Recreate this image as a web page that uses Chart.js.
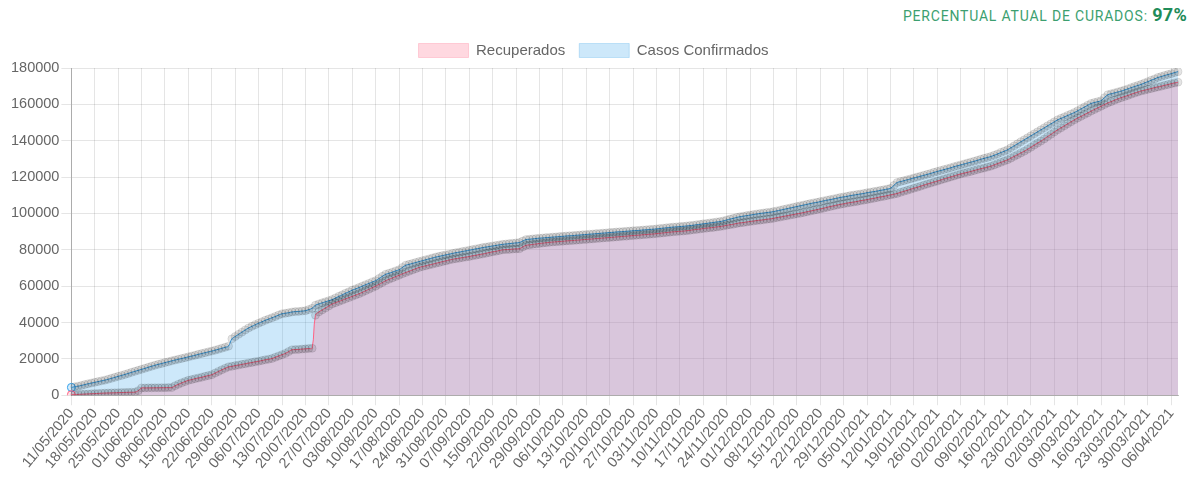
<!DOCTYPE html>
<html>
<head>
<meta charset="utf-8">
<script src="https://cdn.jsdelivr.net/npm/chart.js"></script>
<style>
  body { margin: 0; background: #fff; }
  #percentual {
    position: absolute; top: 4px; right: 12px;
    font-family: "Roboto", sans-serif; font-size: 14px; letter-spacing: 0.8px;
    color: #3c9f70;
  }
  #percentual b { font-size: 18px; color: #1f8c59; letter-spacing: 0.3px; }
  #caixa { position: absolute; top: 28px; left: 0; width: 1199px; height: 450px; }
</style>
</head>
<body>
<div id="percentual">PERCENTUAL ATUAL DE CURADOS: <b>97%</b></div>
<div id="caixa"><canvas id="myChart"></canvas></div>
<script>
// serie diaria desde 11/05/2020 (falta um dia em setembro)
const dataInicial = "2020-05-11";
const dataFaltante = "2020-09-12";
const totalDias = 332;

const nomesSeries = ["Recuperados", "Casos Confirmados"];

const recuperados = [
  300, 380, 460, 550, 640, 730, 820, 900, 990, 1100, 1200,
  1250, 1300, 1360, 1420, 1480, 1540, 1600, 1650, 1700,
  2500, 4000,
  4000, 4050, 4050, 4100, 4100, 4150, 4150, 4200, 4200,
  5200, 6000, 6800, 7500, 8200,
  8600, 9100, 9500,
  9900, 10400, 10800, 11300,
  12200, 13100, 14000,
  14800, 15600,
  15900, 16300, 16600, 17000, 17300,
  17700, 18000, 18400, 18700,
  19100, 19500, 19800, 20200,
  20900, 21600, 22300, 23000,
  24000, 25000,
  25100, 25200, 25400, 25500, 25700, 25800,
  44000, 45800,
  46900, 48000, 49100, 50200,
  50900, 51600, 52300, 53000, 53700, 54400, 55100, 55800,
  56600, 57500, 58300, 59200, 60000,
  61000, 62000, 63000,
  63800, 64500, 65300, 66000, 66800, 67500,
  68200, 68900, 69600, 70300,
  70800, 71200, 71700, 72100, 72600,
  73000, 73500, 73900, 74400, 74800,
  75100, 75400, 75700, 76000, 76300,
  76700, 77000, 77400, 77700, 78100,
  78500, 78900, 79200, 79600, 80000,
  80100, 80200, 80400, 80500, 80600,
  81600, 82500,
  82700, 83000, 83200, 83500, 83700, 83900, 84100, 84300,
  84400, 84600, 84700, 84900, 85000, 85100, 85300, 85400, 85600, 85700,
  85900, 86000, 86200, 86300, 86500, 86600, 86800, 86900, 87100, 87200,
  87400, 87500, 87700, 87800, 88000, 88100, 88300, 88400, 88600, 88700,
  88900, 89100, 89300, 89500, 89700, 89900, 90000, 90200, 90300, 90500,
  90700, 91000, 91200, 91400, 91700, 91900, 92100, 92300, 92600, 92800,
  93100, 93500, 93800, 94100, 94500, 94800,
  95000, 95300, 95600, 95800, 96100, 96300,
  96500, 96800, 97000, 97300,
  97700, 98000, 98400, 98700, 99100, 99400, 99800, 100100, 100500, 100900,
  101300, 101700, 102100, 102500, 102900, 103400, 103800, 104200, 104600, 105000,
  105300, 105700, 106000, 106300, 106600, 107000, 107300, 107600, 108000, 108300,
  108700, 109100, 109400, 109800, 110200,
  110600, 111000,
  111600, 112200, 112700, 113300, 113900, 114400, 115000, 115600,
  116200, 116700, 117300, 117800, 118400, 119000, 119500, 120100, 120600, 121200,
  121700, 122200, 122600, 123100, 123600, 124100, 124600, 125000, 125500, 126000,
  126700, 127400, 128100, 128800, 129500,
  130400, 131400, 132300, 133300, 134200,
  135300, 136400, 137600, 138700, 139800,
  141000, 142300, 143500, 144800, 146000,
  147100, 148200, 149300, 150400, 151500,
  152500, 153400, 154400, 155300, 156300,
  157200, 158100, 159000, 159900, 160800,
  161500, 162300, 163000, 163700,
  164300, 164900, 165600, 166200, 166800, 167400,
  167800, 168300, 168700, 169200, 169600,
  170000, 170500, 170900, 171400, 171800, 172200
];

const confirmados = [
  4300, 4650, 5000, 5400, 5850, 6300,
  6700, 7100, 7500, 7900, 8300,
  8800, 9300, 9850, 10400, 10900,
  11450, 12000, 12600, 13150, 13700,
  14250, 14800, 15400, 15950, 16500,
  17000, 17450, 17950, 18400, 18900,
  19350, 19800, 20200, 20650, 21100,
  21550, 22000, 22500, 22950, 23400,
  23850, 24300, 24800, 25300,
  25850, 26400, 27000,
  31000, 32300, 33500,
  34700, 35900, 37000,
  37900, 38800, 39600, 40400, 41200,
  41900, 42600, 43300, 44100, 44800,
  45100, 45400, 45800,
  46000, 46100, 46300, 46500,
  47100, 47800, 49500,
  50200, 50800, 51400, 52000, 52600,
  53500, 54400, 55200, 56100, 56900, 57800,
  58500, 59200,
  60000, 60800, 61500, 62300, 63000,
  64200, 65400, 66500,
  67100, 67700, 68400, 69000,
  70300, 71500,
  72000, 72500, 73000, 73500,
  74000, 74500, 75000, 75500, 76000,
  76400, 76800, 77200, 77600, 78000,
  78400, 78700, 79100, 79400, 79800,
  80100, 80500, 80800, 81200, 81500,
  81800, 82100, 82400, 82700, 83000,
  83200, 83400, 83600, 83800, 84000,
  84800, 85600,
  85800, 86000, 86200, 86400, 86500, 86700, 86800, 87000,
  87100, 87300, 87400, 87600, 87700, 87800, 88000, 88100, 88300, 88400,
  88600, 88700, 88900, 89000, 89200, 89300, 89500, 89600, 89800, 89900,
  90000, 90200, 90300, 90500, 90600, 90700, 90900, 91000, 91200, 91300,
  91500, 91700, 91900, 92100, 92300, 92500, 92600, 92800, 92900, 93100,
  93300, 93500, 93800, 94000, 94300, 94500, 94800, 95000, 95300, 95500,
  95900, 96400, 96900, 97300, 97800, 98200,
  98500, 98800, 99100, 99400, 99700, 100000,
  100200, 100500, 100700, 101000,
  101400, 101800, 102200, 102600, 103000, 103400, 103800, 104200, 104600, 105000,
  105400, 105800, 106100, 106500, 106900, 107300, 107600, 108000, 108400, 108800,
  109100, 109400, 109800, 110100, 110400, 110700, 111000, 111400, 111700, 112000,
  112300, 112700, 113000, 113400, 113800,
  115400, 117000,
  117500, 118000, 118500, 119000, 119500, 120000, 120500, 121000,
  121500, 122000, 122600, 123100, 123600, 124100, 124600, 125100, 125700, 126200,
  126700, 127200, 127700, 128200, 128700, 129200, 129800, 130300, 130800, 131300,
  132000, 132700, 133500, 134200, 135000,
  136100, 137200, 138300, 139400, 140500,
  141600, 142700, 143800, 144900, 146000,
  147100, 148200, 149300, 150400, 151500,
  152300, 153100, 153900, 154700, 155500,
  156500, 157500, 158500, 159500, 160500,
  161000, 161500, 162000,
  163700, 165300,
  165800, 166300, 166800, 167300,
  167900, 168500, 169200, 169800, 170400, 171000,
  171800, 172500, 173300, 174000, 174800,
  175300, 175900, 176400, 176900, 177500, 178000
];

const yTicks = { min: 0, max: 180000, passo: 20000 };

// datas no formato dd/mm/aaaa
const datas = [];
let d = new Date(dataInicial + "T00:00:00Z");
while (datas.length < totalDias) {
  const iso = d.toISOString().slice(0, 10);
  if (iso !== dataFaltante) {
    datas.push(iso.slice(8, 10) + "/" + iso.slice(5, 7) + "/" + iso.slice(0, 4));
  }
  d.setUTCDate(d.getUTCDate() + 1);
}

const cinza = "rgba(0,0,0,0.1)";
function corPonto(cor) {
  return (c) => (c.dataIndex === 0 ? cor : cinza);
}

Chart.defaults.font.family = '"Liberation Sans", Arial, sans-serif';
Chart.defaults.color = "#666";

const ctx = document.getElementById("myChart").getContext("2d");
let chart = new Chart(ctx, {
  type: "line",
  data: {
    labels: datas,
    datasets: [
      {
        label: nomesSeries[0],
        data: recuperados,
        backgroundColor: "rgba(255, 99, 132, 0.25)",
        borderColor: "rgba(255, 99, 132, 1)",
        borderWidth: 1,
        fill: "origin",
        tension: 0.4,
        pointRadius: 4,
        pointBorderWidth: 1,
        pointBackgroundColor: corPonto("rgba(255, 99, 132, 0.2)"),
        pointBorderColor: corPonto("rgba(255, 99, 132, 1)"),
      },
      {
        label: nomesSeries[1],
        data: confirmados,
        backgroundColor: "rgba(54, 162, 235, 0.25)",
        borderColor: "rgba(54, 162, 235, 1)",
        borderWidth: 1,
        fill: "origin",
        tension: 0.4,
        pointRadius: 4,
        pointBorderWidth: 1,
        pointBackgroundColor: corPonto("rgba(54, 162, 235, 0.2)"),
        pointBorderColor: corPonto("rgba(54, 162, 235, 1)"),
      },
    ],
  },
  options: {
    responsive: true,
    maintainAspectRatio: false,
    animation: false,
    layout: { padding: { left: 9, right: 21, top: 1, bottom: 6 } },
    plugins: {
      legend: {
        labels: {
          boxWidth: 50,
          boxHeight: 14,
          font: { size: 15 },
          padding: 14,
          generateLabels: (ch) =>
            ch.data.datasets.map((ds, i) => ({
              text: ds.label,
              fillStyle: ds.backgroundColor,
              strokeStyle: ds.backgroundColor,
              lineWidth: 1,
              datasetIndex: i,
              fontColor: "#666",
            })),
        },
      },
      tooltip: { enabled: false },
    },
    scales: {
      x: {
        grid: { color: cinza, tickLength: 10 },
        border: { color: "rgba(0,0,0,0.25)" },
        ticks: {
          autoSkip: false,
          minRotation: 50,
          maxRotation: 50,
          padding: 0,
          font: { size: 14.5 },
          callback: function (value, index) {
            return index % 7 === 0 ? this.getLabelForValue(value) : null;
          },
        },
      },
      y: {
        min: yTicks.min,
        max: yTicks.max,
        grid: { color: cinza, tickLength: 10 },
        border: { color: "rgba(0,0,0,0.25)" },
        ticks: {
          stepSize: yTicks.passo,
          padding: 2,
          font: { size: 14.5 },
          callback: (v) => String(v),
        },
      },
    },
  },
});
</script>
</body>
</html>
